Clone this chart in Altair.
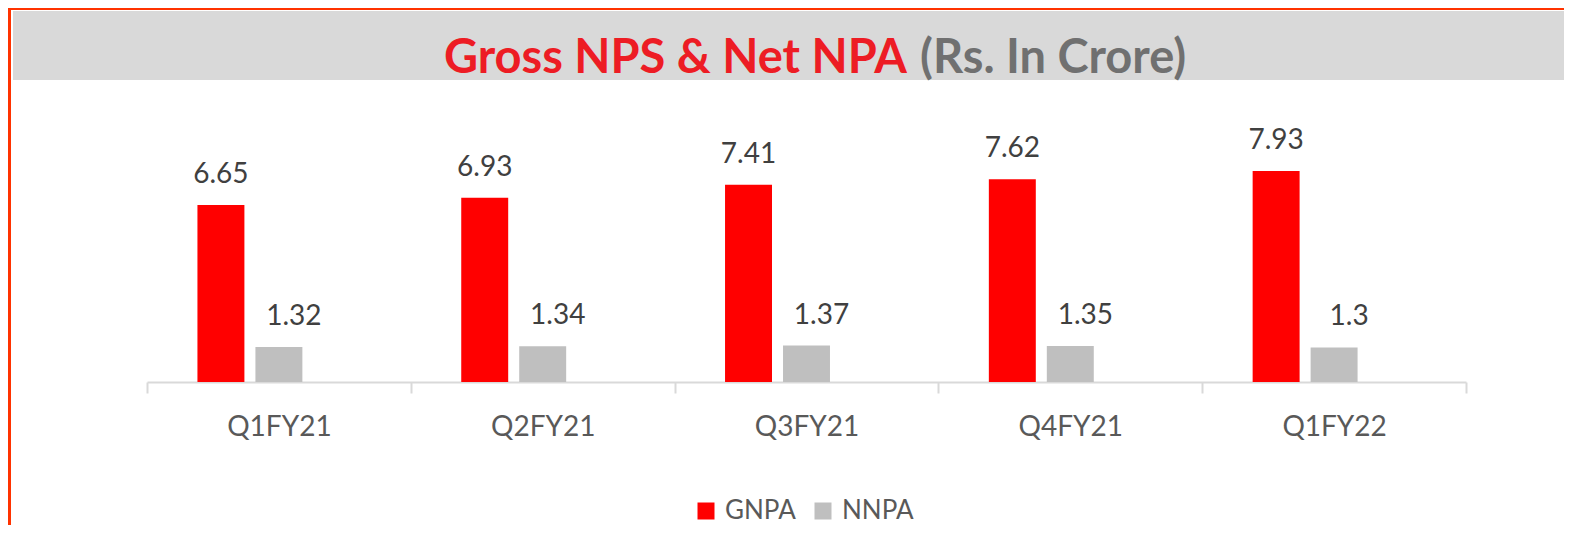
import altair as alt
import pandas as pd

categories = ["Q1FY21", "Q2FY21", "Q3FY21", "Q4FY21", "Q1FY22"]
gnpa = [6.65, 6.93, 7.41, 7.62, 7.93]
nnpa = [1.32, 1.34, 1.37, 1.35, 1.30]
series_names = ["GNPA", "NNPA"]
series_colors = ["#FF0000", "#BFBFBF"]
title_main = "Gross NPS & Net NPA"
title_unit = "(Rs. In Crore)"

rows = []
for c, g, n in zip(categories, gnpa, nnpa):
    rows.append({"quarter": c, "series": "GNPA", "value": g, "label": f"{g:g}"})
    rows.append({"quarter": c, "series": "NNPA", "value": n, "label": f"{n:g}"})
df = pd.DataFrame(rows)

W, H = 1319, 282
FONT = "Lato"

x_enc = alt.X(
    "quarter:N", sort=categories,
    scale=alt.Scale(paddingInner=0, paddingOuter=0),
    axis=alt.Axis(title=None, labelAngle=0, tickBand="extent",
                  domainColor="#D9D9D9", domainWidth=2,
                  tickColor="#D9D9D9", tickWidth=2, tickSize=11,
                  labelFont=FONT, labelFontSize=28, labelColor="#595959",
                  labelPadding=20, grid=False),
)
xoff = alt.XOffset("series:N", scale=alt.Scale(domain=["GNPA", "NNPA", "_"],
                                               paddingInner=0.19, paddingOuter=0.87))
y_enc = alt.Y("value:Q", scale=alt.Scale(domain=[0, 10.6]), axis=None)

base = alt.Chart(df)

bars = base.mark_bar().encode(
    x=x_enc, xOffset=xoff, y=y_enc,
    color=alt.Color("series:N",
                    scale=alt.Scale(domain=series_names, range=series_colors),
                    legend=alt.Legend(orient="none", legendX=546, legendY=398,
                                      direction="horizontal", title=None,
                                      symbolType="square", symbolSize=289,
                                      symbolStrokeWidth=0, labelFont=FONT,
                                      labelFontSize=26, labelColor="#595959",
                                      labelOffset=6, columnPadding=14, padding=0)),
)

lab_g = base.transform_filter("datum.series == 'GNPA'").mark_text(
    font=FONT, fontSize=28, color="#404040", baseline="alphabetic", dy=-22
).encode(x=x_enc, xOffset=xoff, y=y_enc, text="label:N")

lab_n = base.transform_filter("datum.series == 'NNPA'").mark_text(
    font=FONT, fontSize=28, color="#404040", baseline="alphabetic", dy=-22, dx=15
).encode(x=x_enc, xOffset=xoff, y=y_enc, text="label:N")

one = pd.DataFrame({"t": [title_main], "u": [title_unit]})
deco = alt.Chart(one)

band = deco.mark_rect(color="#D9D9D9").encode(
    x=alt.value(-134), x2=alt.value(1417), y=alt.value(-89), y2=alt.value(-20))
top_line = deco.mark_rect(color="#FF3300").encode(
    x=alt.value(-139), x2=alt.value(1417), y=alt.value(-92), y2=alt.value(-90))
left_line = deco.mark_rect(color="#FF3300").encode(
    x=alt.value(-139), x2=alt.value(-136), y=alt.value(-92), y2=alt.value(425))

t1 = deco.mark_text(font=FONT, fontWeight="bold", fontSize=47, color="#ED1C24",
                    align="right", baseline="alphabetic").encode(
    x=alt.value(760), y=alt.value(-27), text="t:N")
t2 = deco.mark_text(font=FONT, fontWeight="bold", fontSize=47, color="#707070",
                    align="left", baseline="alphabetic").encode(
    x=alt.value(773), y=alt.value(-27), text="u:N")

chart = alt.layer(band, top_line, left_line, t1, t2, bars, lab_g, lab_n).properties(
    width=W, height=H,
    padding={"left": 139, "top": 92, "right": 98, "bottom": 143},
    autosize=alt.AutoSizeParams(type="none"),
    background="white",
).configure_view(stroke=None)

chart.save("out.html", embed_options={"renderer": "svg", "actions": False})
